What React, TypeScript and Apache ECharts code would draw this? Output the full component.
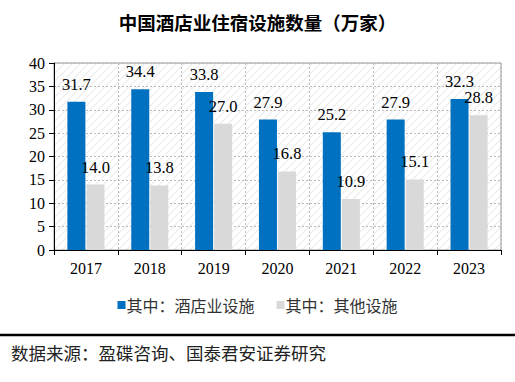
import React, { useEffect, useRef } from "react";
import * as echarts from "echarts";

const categories = ["2017", "2018", "2019", "2020", "2021", "2022", "2023"];
const hotelValues = [31.7, 34.4, 33.8, 27.9, 25.2, 27.9, 32.3];
const otherValues = [14.0, 13.8, 27.0, 16.8, 10.9, 15.1, 28.8];
const seriesNames = ["其中：酒店业设施", "其中：其他设施"];
const titleText = "中国酒店业住宿设施数量（万家）";
const sourceText = "数据来源：盈碟咨询、国泰君安证券研究";

function makeHatch(): string {
  const c = document.createElement("canvas");
  c.width = 8;
  c.height = 8;
  const ctx = c.getContext("2d");
  if (ctx) {
    ctx.fillStyle = "#ffffff";
    ctx.fillRect(0, 0, 8, 8);
    ctx.strokeStyle = "#ececec";
    ctx.lineWidth = 1.2;
    ctx.beginPath();
    ctx.moveTo(0, 8);
    ctx.lineTo(8, 0);
    ctx.moveTo(-4, 4);
    ctx.lineTo(4, -4);
    ctx.moveTo(4, 12);
    ctx.lineTo(12, 4);
    ctx.stroke();
  }
  return c.toDataURL();
}

export default function App() {
  const ref = useRef<HTMLDivElement>(null);
  useEffect(() => {
    if (!ref.current) return;
    const chart = echarts.init(ref.current, undefined, { renderer: "svg" });
    const hatch = makeHatch();
    const serif = "Liberation Serif";
    const labelStyle = {
      show: true,
      position: "top" as const,
      distance: 9,
      color: "#000",
      fontFamily: serif,
      fontSize: 16.5,
      formatter: (p: any) => Number(p.value).toFixed(1),
    };
    chart.setOption({
      animation: false,
      backgroundColor: "#fff",
      title: {
        text: titleText,
        left: "center",
        top: 8,
        textStyle: {
          fontFamily: "Noto Sans CJK SC",
          fontSize: 18.5,
          fontWeight: "bold",
          color: "#000",
        },
      },
      legend: {
        bottom: 64,
        left: "center",
        itemWidth: 8,
        itemHeight: 8,
        itemGap: 22,
        icon: "rect",
        textStyle: {
          fontFamily: "Noto Sans CJK SC",
          fontSize: 16,
          color: "#333",
          padding: [0, 0, 0, -4],
        },
        data: seriesNames,
      },
      grid: {
        left: 54,
        right: 14,
        top: 63,
        bottom: 132,
        show: true,
        borderColor: "#999",
        borderWidth: 1,
        backgroundColor: { image: hatch, repeat: "repeat" } as any,
      },
      xAxis: {
        type: "category",
        data: categories,
        axisLine: { lineStyle: { color: "#000", width: 1 } },
        axisTick: { show: true, length: 5, lineStyle: { color: "#000" } },
        axisLabel: {
          fontFamily: serif,
          fontSize: 16,
          color: "#000",
          margin: 10,
        },
        splitLine: {
          show: true,
          lineStyle: { color: "#bbb", type: [2, 2] },
        },
      },
      yAxis: {
        type: "value",
        min: 0,
        max: 40,
        interval: 5,
        axisLine: { show: true, lineStyle: { color: "#000", width: 1 } },
        axisTick: { show: true, length: 5, lineStyle: { color: "#000" } },
        axisLabel: {
          fontFamily: serif,
          fontSize: 16,
          color: "#000",
          margin: 9,
        },
        splitLine: {
          show: true,
          lineStyle: { color: "#bbb", type: [2, 2] },
        },
      },
      series: [
        {
          name: seriesNames[0],
          type: "bar",
          data: hotelValues,
          barWidth: 18,
          barGap: "6%",
          itemStyle: { color: "#0070C0" },
          label: labelStyle,
        },
        {
          name: seriesNames[1],
          type: "bar",
          data: otherValues,
          barWidth: 18,
          barGap: "6%",
          itemStyle: { color: "#D9D9D9" },
          label: labelStyle,
        },
      ],
      graphic: [
        {
          type: "line",
          shape: { x1: 0, y1: 335, x2: 515, y2: 335 },
          style: { stroke: "#000", lineWidth: 2.5 },
        },
        {
          type: "text",
          left: 11,
          top: 344,
          style: {
            text: sourceText,
            fontFamily: "Noto Sans CJK SC",
            fontSize: 17.5,
            fill: "#222",
          },
        },
      ],
    });
    return () => chart.dispose();
  }, []);
  return (
    <div
      ref={ref}
      style={{ position: "fixed", left: 0, top: 0, width: 515, height: 382 }}
    />
  );
}
